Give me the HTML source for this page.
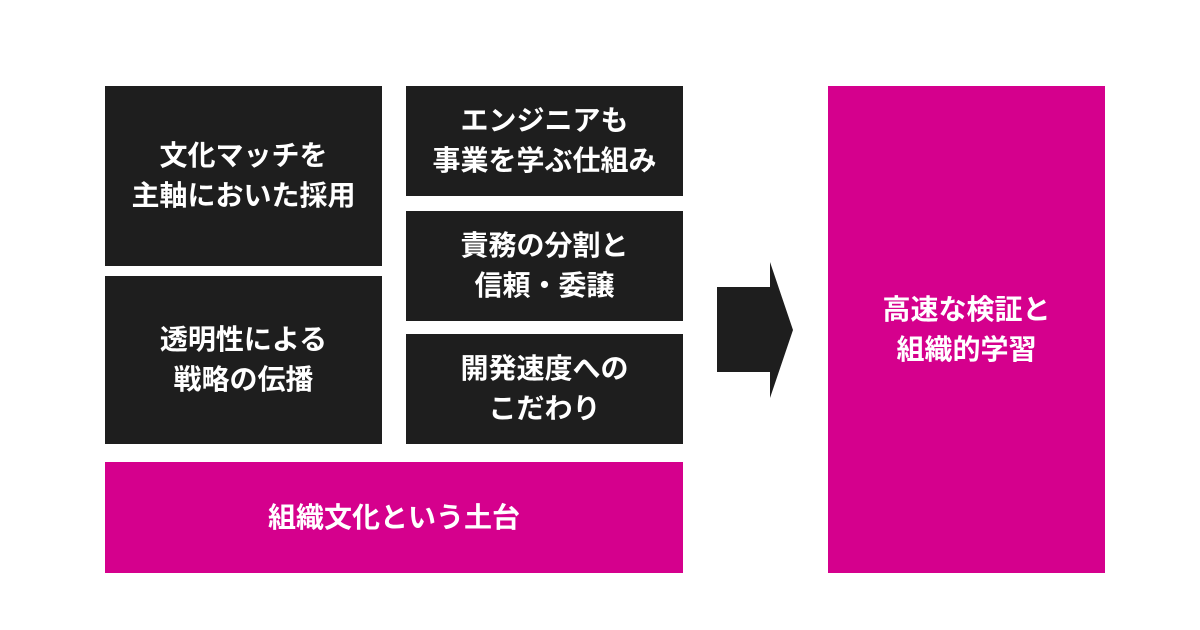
<!DOCTYPE html>
<html><head><meta charset="utf-8"><style>
body{margin:0;width:1200px;height:630px;background:#fff;position:relative;overflow:hidden;font-family:"Liberation Sans","Noto Sans CJK JP",sans-serif;}
.b{position:absolute;display:flex;align-items:center;justify-content:center;text-align:center;color:#fff;font-weight:bold;font-size:28px;line-height:40px;}
.d{background:#1e1e1e;}
.m{background:#d5008d;}
</style></head><body>
<div class="b d" style="left:105px;top:86px;width:277px;height:180px;">文化マッチを<br>主軸においた採用</div>
<div class="b d" style="left:105px;top:276px;width:277px;height:168px;">透明性による<br>戦略の伝播</div>
<div class="b d" style="left:406px;top:86px;width:277px;height:110px;">エンジニアも<br>事業を学ぶ仕組み</div>
<div class="b d" style="left:406px;top:211px;width:277px;height:110px;">責務の分割と<br>信頼・委譲</div>
<div class="b d" style="left:406px;top:334px;width:277px;height:110px;">開発速度への<br>こだわり</div>
<div class="b m" style="left:105px;top:462px;width:578px;height:111px;">組織文化という土台</div>
<div class="b m" style="left:828px;top:86px;width:277px;height:487px;">高速な検証と<br>組織的学習</div>
<svg style="position:absolute;left:0;top:0" width="1200" height="630">
<polygon points="717,287 770,287 770,262 793,330 770,398 770,372 717,372" fill="#1e1e1e"/>
</svg>
</body></html>
